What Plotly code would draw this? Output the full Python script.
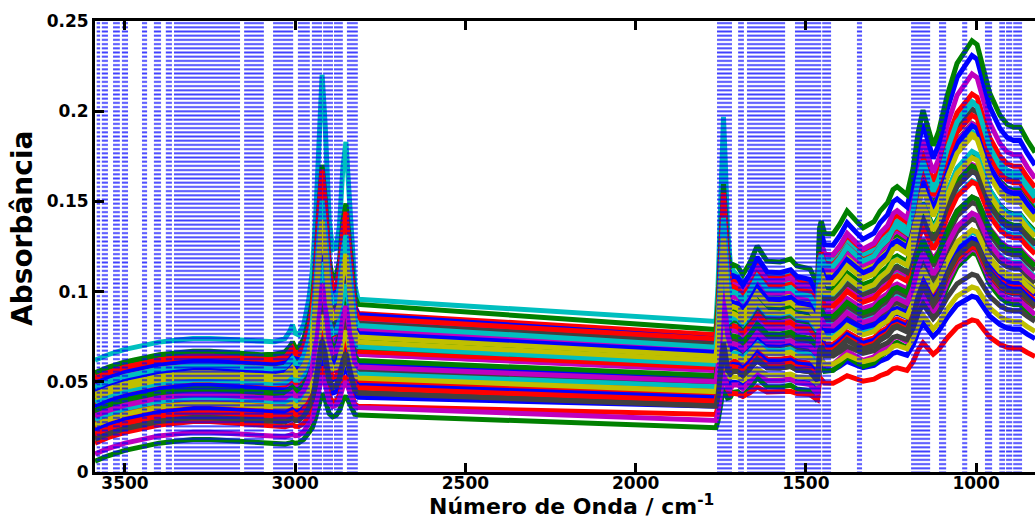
import numpy as np
import plotly.graph_objects as go

# ---------------- data ----------------
# High-wavenumber region (cm-1) and its component profiles
NU_LEFT = [3588, 3550, 3500, 3450, 3400, 3350, 3300, 3250, 3200, 3150, 3100, 3060,
           3030, 3015, 3008, 3000, 2990, 2975, 2960, 2950, 2940, 2930, 2921, 2912,
           2900, 2890, 2880, 2870, 2860, 2851, 2843, 2835, 2825, 2815]
BASE_LEFT = [0.000, 0.003, 0.006, 0.008, 0.010, 0.011, 0.012, 0.012, 0.0115, 0.011, 0.010, 0.009,
             0.008, 0.0075, 0.007, 0.007, 0.007, 0.0072, 0.0075, 0.0078, 0.008, 0.0082, 0.0085, 0.0088,
             0.009, 0.0093, 0.0096, 0.010, 0.0103, 0.0106, 0.011, 0.0113, 0.0116, 0.012]
LIPID_LEFT = [0, 0, 0, 0, 0, 0, 0, 0, 0, 0, 0, 0.005,
              0.02, 0.05, 0.075, 0.04, 0.03, 0.06, 0.15, 0.25, 0.45, 0.78, 1.0, 0.8,
              0.42, 0.3, 0.3, 0.38, 0.6, 0.70, 0.52, 0.3, 0.12, 0.06]
CARB_LEFT = [0, 0, 0, 0, 0, 0, 0, 0, 0, 0, 0, 0.005,
             0.01, 0.015, 0.018, 0.02, 0.025, 0.035, 0.045, 0.05, 0.06, 0.065, 0.07, 0.075,
             0.08, 0.085, 0.09, 0.095, 0.1, 0.1, 0.105, 0.11, 0.115, 0.12]

# Fingerprint region (cm-1) and its component profiles
NU_RIGHT = [1764, 1758, 1752, 1746, 1742, 1737, 1730, 1722, 1714, 1700,
            1685, 1665, 1643, 1614, 1576, 1545, 1526, 1488, 1473, 1466,
            1460, 1455, 1445, 1420, 1400, 1379, 1350, 1332, 1300, 1282,
            1260, 1244, 1232, 1203, 1185, 1170, 1156, 1140, 1126, 1110,
            1085, 1056, 1030, 1012, 997, 980, 960, 930, 909, 890,
            871, 850, 833, 827]
BASE_RIGHT_LEVEL = 0.012
LIPID_RIGHT = [0.02, 0.15, 0.45, 0.75, 0.78, 0.6, 0.3, 0.14, 0.08, 0.05,
               0.04, 0.035, 0.03, 0.03, 0.025, 0.025, 0.02, 0.02, 0.03, 0.04,
               0.08, 0.07, 0.05, 0.03, 0.035, 0.04, 0.03, 0.03, 0.03, 0.03,
               0.035, 0.04, 0.04, 0.045, 0.06, 0.075, 0.08, 0.06, 0.05, 0.045,
               0.04, 0.035, 0.03, 0.025, 0.02, 0.02, 0.02, 0.015, 0.015, 0.015,
               0.015, 0.01, 0.01, 0.01]
CARB_RIGHT = [0.06, 0.07, 0.08, 0.10, 0.11, 0.13, 0.16, 0.20, 0.24, 0.25,
              0.23, 0.27, 0.33, 0.28, 0.28, 0.29, 0.27, 0.26, 0.22, 0.20,
              0.36, 0.39, 0.36, 0.37, 0.40, 0.44, 0.41, 0.39, 0.41, 0.445,
              0.47, 0.51, 0.52, 0.49, 0.57, 0.68, 0.75, 0.70, 0.65, 0.70,
              0.82, 0.93, 0.98, 1.01, 1.0, 0.93, 0.84, 0.77, 0.74, 0.73,
              0.73, 0.69, 0.66, 0.65]

# Per-spectrum coefficients (49 spectra)
OFFSET = [0.020, 0.006, 0.016, 0.062, 0.010, 0.022, 0.025,
          0.030, 0.028, 0.024, 0.034, 0.038, 0.032, 0.019,
          0.040, 0.044, 0.027, 0.042, 0.036, 0.046, 0.030,
          0.023, 0.048, 0.038, 0.029, 0.044, 0.050, 0.033,
          0.036, 0.040, 0.021, 0.052, 0.046, 0.026, 0.042,
          0.045, 0.034, 0.054, 0.039, 0.048, 0.043, 0.050,
          0.050, 0.055, 0.052, 0.047, 0.031, 0.041, 0.018]
LIPID_AMP = [0.030, 0.022, 0.030, 0.142, 0.028, 0.034, 0.036,
             0.045, 0.040, 0.050, 0.050, 0.055, 0.048, 0.035,
             0.060, 0.062, 0.052, 0.058, 0.050, 0.070, 0.052,
             0.038, 0.075, 0.065, 0.042, 0.068, 0.078, 0.055,
             0.028, 0.058, 0.048, 0.080, 0.072, 0.046, 0.062,
             0.066, 0.056, 0.085, 0.060, 0.080, 0.074, 0.070,
             0.090, 0.095, 0.098, 0.085, 0.058, 0.082, 0.040]
CARB_AMP = [0.064, 0.102, 0.055, 0.110, 0.100, 0.067, 0.071,
            0.085, 0.092, 0.090, 0.095, 0.100, 0.088, 0.092,
            0.112, 0.118, 0.092, 0.105, 0.120, 0.126, 0.096,
            0.090, 0.130, 0.108, 0.090, 0.134, 0.122, 0.102,
            0.080, 0.115, 0.090, 0.138, 0.140, 0.094, 0.110,
            0.132, 0.104, 0.140, 0.124, 0.157, 0.128, 0.136,
            0.165, 0.168, 0.130, 0.142, 0.098, 0.118, 0.095]
COLOR_CYCLE = ["#0000FF", "#008000", "#FF0000", "#00BFBF", "#BF00BF", "#BFBF00", "#404040"]

# Selected variable intervals (cm-1), marked with dashed vertical lines
SELECTED_REGIONS = [(3583, 3573), (3568, 3550), (3535, 3515), (3509, 3491), (3450, 3435),
                    (3415, 3394), (3380, 3362), (3356, 3162), (3150, 3092), (3065, 3006),
                    (2992, 2957), (2951, 2921), (2918, 2889), (2886, 2860), (2848, 2816),
                    (1761, 1717), (1699, 1682), (1673, 1561), (1532, 1455), (1452, 1426),
                    (1350, 1335), (1191, 1135), (1109, 1088), (1041, 1026), (974, 953),
                    (932, 915), (912, 894), (891, 865)]

X_TICKS = [3500, 3000, 2500, 2000, 1500, 1000]
Y_TICKS = [0, 0.05, 0.1, 0.15, 0.2, 0.25]
Y_TICK_TEXT = ["0", "0.05", "0.1", "0.15", "0.2", "0.25"]
X_RANGE = [3588, 827]
Y_RANGE = [0, 0.25]

# ---------------- figure ----------------
nu = np.array(NU_LEFT + NU_RIGHT, dtype=float)
base = np.array(BASE_LEFT + [BASE_RIGHT_LEVEL] * len(NU_RIGHT))
lip = np.array(LIPID_LEFT + LIPID_RIGHT)
carb = np.array(CARB_LEFT + CARB_RIGHT)

fig = go.Figure()
for i, (o, a, c) in enumerate(zip(OFFSET, LIPID_AMP, CARB_AMP)):
    y = o + base + a * lip + c * carb
    fig.add_trace(go.Scatter(x=nu, y=y, mode="lines",
                             line=dict(color=COLOR_CYCLE[i % len(COLOR_CYCLE)], width=5),
                             hoverinfo="skip", showlegend=False))

# selected-variable bands: dashed vertical lines render as horizontal stripes
sel_center = [(hi + lo) / 2 for hi, lo in SELECTED_REGIONS]
sel_width = [hi - lo for hi, lo in SELECTED_REGIONS]
fig.add_trace(go.Bar(x=sel_center, y=[Y_RANGE[1]] * len(SELECTED_REGIONS), width=sel_width,
                     base=0, xaxis="x2", yaxis="y2",
                     marker=dict(color="rgba(0,0,0,0)", line=dict(width=0),
                                 pattern=dict(shape="-", fgcolor="#0000FF", bgcolor="rgba(0,0,0,0)",
                                              size=4.2, solidity=0.45, fgopacity=0.75)),
                     hoverinfo="skip", showlegend=False))

tickfont = dict(family="DejaVu Sans, Arial, sans-serif", size=17, color="black", weight="bold")
fig.update_layout(
    width=1035, height=525,
    margin=dict(l=95, r=0, t=21, b=53),
    paper_bgcolor="white", plot_bgcolor="white",
    showlegend=False,
    xaxis=dict(range=X_RANGE, tickvals=X_TICKS, ticks="inside", ticklen=9, tickwidth=3,
               tickcolor="black", showline=True, linewidth=3, linecolor="black",
               mirror="ticks", showgrid=False, zeroline=False, tickfont=tickfont,
               ticklabelstandoff=-6),
    yaxis=dict(range=Y_RANGE, tickvals=Y_TICKS, ticktext=Y_TICK_TEXT, ticks="inside",
               ticklen=9, tickwidth=3, tickcolor="black", showline=True, linewidth=3,
               linecolor="black", showgrid=False, zeroline=False, tickfont=tickfont),
    xaxis2=dict(range=X_RANGE, overlaying="x", visible=False),
    yaxis2=dict(range=Y_RANGE, overlaying="y", visible=False),
    annotations=[
        dict(text="Número de Onda / cm<sup>-1</sup>", xref="paper", yref="paper",
             x=(571 - 95) / 940, y=(472 - 505) / 451, xanchor="center", yanchor="middle",
             showarrow=False,
             font=dict(family="DejaVu Sans, Arial, sans-serif", size=22, color="black", weight="bold")),
        dict(text="Absorbância", xref="paper", yref="paper", textangle=-90,
             x=(22 - 95) / 940, y=(472 - 229) / 451, xanchor="center", yanchor="middle",
             showarrow=False,
             font=dict(family="DejaVu Sans, Arial, sans-serif", size=28, color="black", weight="bold")),
    ],
)

fig.write_html("out.html")
